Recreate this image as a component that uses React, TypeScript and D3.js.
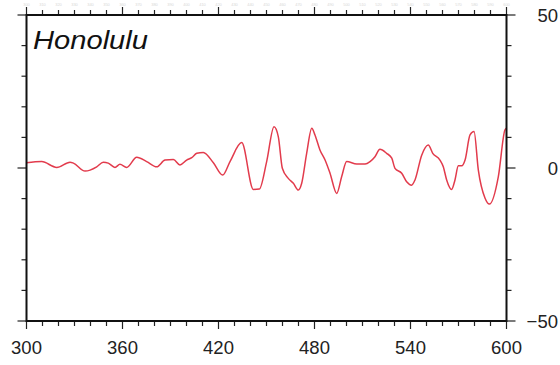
import React from "react";
import * as d3 from "d3";

const title = "Honolulu";
const xDomain = [300, 600];
const yDomain = [-50, 50];
const xLabelTicks = [300, 360, 420, 480, 540, 600];
const yLabelTicks = [-50, 0, 50];

const seriesX = [
  300, 309.5, 318.9, 327.2, 329.3, 336.6, 343.9, 348, 351.1, 355.3, 358.4, 362.6,
  368.9, 375.1, 381.4, 386.6, 391.8, 395.9, 400.1, 403.3, 406.4, 410.5, 416.8,
  422.6, 427.2, 434.5, 441.8, 445.5, 450.1, 454.7, 457.4, 459.9, 463.6, 466.8,
  469.9, 472, 475.1, 478.3, 480.3, 483.4, 486.6, 489.7, 493.9, 497, 500.1, 506.4,
  511.6, 514.7, 517.8, 520.9, 525.1, 528.3, 530.3, 534.5, 537.6, 540.7, 542.8,
  547, 551.1, 553.9, 558.4, 560.5, 562.6, 565.7, 567.8, 569.9, 572, 574.1, 577.2,
  579.7, 582.4, 586.6, 589.3, 594.9, 599, 600,
];
const seriesY = [
  1.7, 2.1, 0.2, 1.9, 1.6, -1.0, 0.4, 1.9, 1.6, 0.2, 1.2, 0.2,
  3.5, 2.1, 0.4, 2.6, 2.8, 1.0, 2.6, 3.4, 4.8, 5.1, 1.7,
  -2.3, 2.1, 8.3, -7.0, -6.9, 2.1, 13.5, 10.2, -0.1, -3.4, -5,
  -7.2, -5, 4.8, 13, 10.8, 5.9, 2.6, -1.7, -8.3, -2.8, 2.1, 1.3,
  1.3, 2.1, 3.7, 6.1, 4.8, 3.2, -0.1, -1.7, -4.5, -5.6, -3.9,
  4.2, 7.5, 4.8, 2.6, 0.4, -3.9, -7, -3.9, 0.7, 0.7, 2.6, 10.8,
  11.9, -0.7, -9.9, -11.8, -2.8, 12.4, 13,
];

const W = 560;
const H = 365;
const L = 26.5;
const R = 506.5;
const T = 15;
const B = 321;

export default function App() {
  const x = d3.scaleLinear().domain(xDomain).range([L, R]);
  const y = d3.scaleLinear().domain(yDomain).range([B, T]);
  const xMinor = d3.range(xDomain[0], xDomain[1] + 1, 10);
  const yMinor = d3.range(yDomain[0], yDomain[1] + 1, 10);
  const data = seriesX.map((v, i) => [v, seriesY[i]] as [number, number]);
  const line = d3
    .line<[number, number]>()
    .x((d) => x(d[0]))
    .y((d) => y(d[1]))
    .curve(d3.curveMonotoneX);
  const isMajorX = (v: number) => xLabelTicks.includes(v);
  const isMajorY = (v: number) => yLabelTicks.includes(v);
  const font = "'Liberation Sans', Arial, sans-serif";

  return (
    <svg
      width={W}
      height={H}
      style={{ position: "absolute", left: 0, top: 0, background: "#fff" }}
    >
      <rect x={0} y={0} width={W} height={H} fill="#fff" />
      <path d={line(data) || ""} fill="none" stroke="#e23b4c" strokeWidth={1.5} strokeLinejoin="round" />
      {/* bottom ticks */}
      {xMinor.map((v) => (
        <line key={"b" + v} x1={x(v)} x2={x(v)} y1={B} y2={B + (isMajorX(v) ? 8 : 5)} stroke="#222" strokeWidth={1.2} />
      ))}
      {/* top ticks */}
      {xMinor.map((v) => (
        <line key={"t" + v} x1={x(v)} x2={x(v)} y1={T} y2={T - (isMajorX(v) ? 8 : 5)} stroke="#222" strokeWidth={1.2} />
      ))}
      {xMinor.map((v) => (
        <text key={"tl" + v} x={x(v)} y={6} fontSize={4} fill="#d8d8d8" textAnchor="middle" fontFamily={font}>
          {v}
        </text>
      ))}
      {/* left ticks */}
      {yMinor.map((v) => (
        <line key={"l" + v} x1={L} x2={L - (isMajorY(v) ? 9 : 5)} y1={y(v)} y2={y(v)} stroke="#222" strokeWidth={1.2} />
      ))}
      {/* right ticks */}
      {yMinor.map((v) => (
        <line key={"r" + v} x1={R} x2={R + (isMajorY(v) ? 9 : 5)} y1={y(v)} y2={y(v)} stroke="#222" strokeWidth={1.2} />
      ))}
      {/* frame */}
      <rect x={L} y={T} width={R - L} height={B - T} fill="none" stroke="#111" strokeWidth={2} />
      {/* bottom labels */}
      {xLabelTicks.map((v) => (
        <text key={"xl" + v} x={x(v)} y={354} fontSize={18.5} fill="#222" textAnchor="middle" fontFamily={font}>
          {v}
        </text>
      ))}
      {/* right labels */}
      {yLabelTicks.map((v) => (
        <text key={"yl" + v} x={558} y={y(v) + 6.5} fontSize={18.5} fill="#222" textAnchor="end" fontFamily={font}>
          {v < 0 ? "\u2212" + Math.abs(v) : String(v)}
        </text>
      ))}
      <text
        x={33}
        y={49}
        fontSize={25}
        fontStyle="italic"
        fill="#111"
        fontFamily={font}
        textLength={115}
        lengthAdjust="spacingAndGlyphs"
      >
        {title}
      </text>
    </svg>
  );
}
